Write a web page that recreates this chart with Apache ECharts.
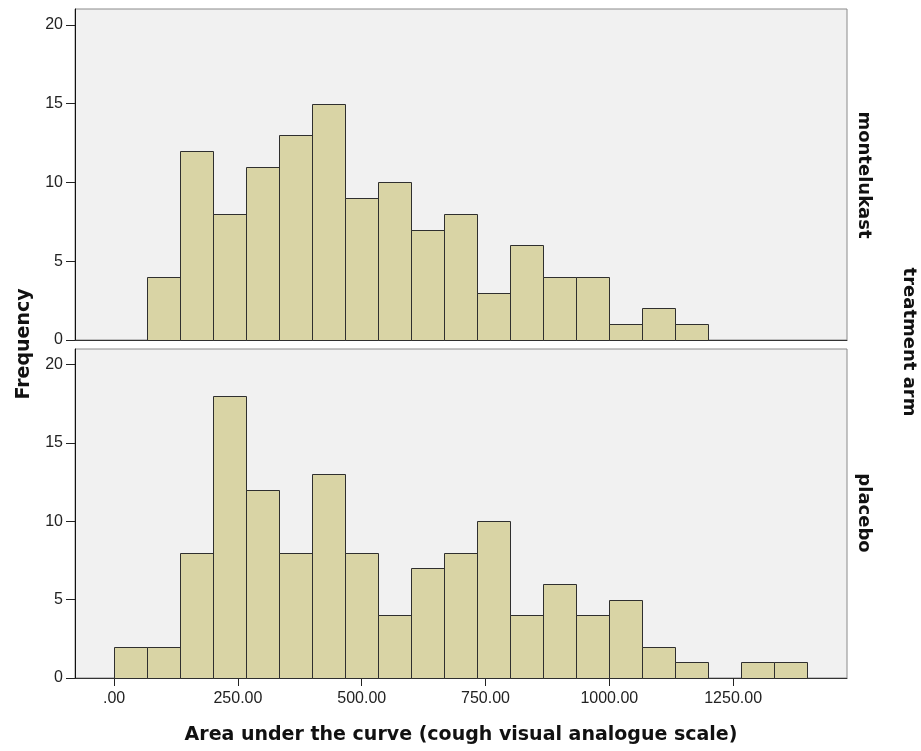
<!DOCTYPE html>
<html>
<head>
<meta charset="utf-8">
<title>Area under the curve by treatment arm</title>
<script src="https://cdn.jsdelivr.net/npm/echarts@6/dist/echarts.min.js"></script>
<style>
  html, body { margin: 0; padding: 0; background: #ffffff; }
  #chart { width: 921px; height: 751px; }
</style>
</head>
<body>
<div id="chart"></div>
<script>
// Histogram bins: equal-width bins starting at zero
const binStart = 0;
const binWidth = 1400 / 21;

// Frequencies per bin (bin 0 = first bin from zero)
const montelukastCounts = [0, 4, 12, 8, 11, 13, 15, 9, 10, 7, 8, 3, 6, 4, 4, 1, 2, 1, 0, 0, 0];
const placeboCounts     = [2, 2, 8, 18, 12, 8, 13, 8, 4, 7, 8, 10, 4, 6, 4, 5, 2, 1, 0, 1, 1];

// Panel names (row facets) and axis ticks
const panels = ['montelukast', 'placebo'];
const xTickValues = [0, 250, 500, 750, 1000, 1250];
const xTickLabels = ['.00', '250.00', '500.00', '750.00', '1000.00', '1250.00'];
const yTickValues = [0, 5, 10, 15, 20];

const xTitle = 'Area under the curve (cough visual analogue scale)';
const yTitle = 'Frequency';
const facetTitle = 'treatment arm';

function toBins(counts) {
  return counts.map((c, i) => [binStart + i * binWidth, binStart + (i + 1) * binWidth, c]);
}

const BAR_FILL = '#d9d4a5';
const BAR_STROKE = '#2f2f2f';
const TICK_FONT = 'Liberation Sans, Arial, sans-serif';
const TITLE_FONT = 'DejaVu Sans, Verdana, sans-serif';

function renderBar(params, api) {
  const x0 = api.value(0), x1 = api.value(1), c = api.value(2);
  if (!c) return null;
  const p0 = api.coord([x0, 0]);
  const p1 = api.coord([x1, c]);
  const left = Math.round(p0[0]), right = Math.round(p1[0]);
  const top = Math.round(p1[1]), bottom = Math.round(p0[1]);
  return {
    type: 'rect',
    shape: { x: left + 0.5, y: top + 0.5, width: right - left, height: bottom - top },
    style: { fill: BAR_FILL, stroke: BAR_STROKE, lineWidth: 1 }
  };
}

const grids = [
  { left: 75, right: 74, top: 9, height: 331 },
  { left: 75, right: 74, top: 349, height: 329 }
].map(g => Object.assign({
  show: true, backgroundColor: '#f1f1f1', borderColor: '#8a8a8a', borderWidth: 1
}, g));

function xAxisFor(i, showLabels) {
  return {
    type: 'value', gridIndex: i, min: -79, max: 1480,
    splitLine: { show: false },
    axisLine: { show: true, onZero: false, lineStyle: { color: '#333', width: 1 } },
    axisTick: { show: showLabels, inside: false, length: 8, customValues: xTickValues, lineStyle: { color: '#222' } },
    axisLabel: {
      show: showLabels, customValues: xTickValues, margin: 13,
      color: '#222', fontSize: 16, fontFamily: TICK_FONT,
      formatter: v => xTickLabels[xTickValues.indexOf(v)]
    }
  };
}

function yAxisFor(i) {
  return {
    type: 'value', gridIndex: i, min: 0, max: 21, position: 'left',
    splitLine: { show: false },
    axisLine: { show: true, onZero: false, lineStyle: { color: '#111', width: 1 } },
    axisTick: { show: true, inside: false, length: 9, customValues: yTickValues, lineStyle: { color: '#222' } },
    axisLabel: { customValues: yTickValues, margin: 12, color: '#222', fontSize: 16, fontFamily: TICK_FONT }
  };
}

const option = {
  animation: false,
  backgroundColor: '#ffffff',
  grid: grids,
  xAxis: [xAxisFor(0, false), xAxisFor(1, true)],
  yAxis: [yAxisFor(0), yAxisFor(1)],
  series: [
    { type: 'custom', name: panels[0], xAxisIndex: 0, yAxisIndex: 0, renderItem: renderBar, data: toBins(montelukastCounts), encode: { x: [0, 1], y: 2 } },
    { type: 'custom', name: panels[1], xAxisIndex: 1, yAxisIndex: 1, renderItem: renderBar, data: toBins(placeboCounts), encode: { x: [0, 1], y: 2 } }
  ],
  graphic: [
    { type: 'text', x: 461, y: 735, style: { text: xTitle, font: 'bold 19px ' + TITLE_FONT, fill: '#111', align: 'center', verticalAlign: 'middle' } },
    { type: 'text', x: 24, y: 344, rotation: Math.PI / 2, style: { text: yTitle, font: 'bold 19px ' + TITLE_FONT, fill: '#111', align: 'center', verticalAlign: 'middle' } },
    { type: 'text', x: 864, y: 175, rotation: -Math.PI / 2, style: { text: panels[0], font: 'bold 18px ' + TITLE_FONT, fill: '#111', align: 'center', verticalAlign: 'middle' } },
    { type: 'text', x: 864, y: 513, rotation: -Math.PI / 2, style: { text: panels[1], font: 'bold 18px ' + TITLE_FONT, fill: '#111', align: 'center', verticalAlign: 'middle' } },
    { type: 'text', x: 909, y: 342, rotation: -Math.PI / 2, style: { text: facetTitle, font: 'bold 18px ' + TITLE_FONT, fill: '#111', align: 'center', verticalAlign: 'middle' } }
  ]
};

const chart = echarts.init(document.getElementById('chart'), null, { renderer: 'canvas' });
chart.setOption(option);
</script>
</body>
</html>
